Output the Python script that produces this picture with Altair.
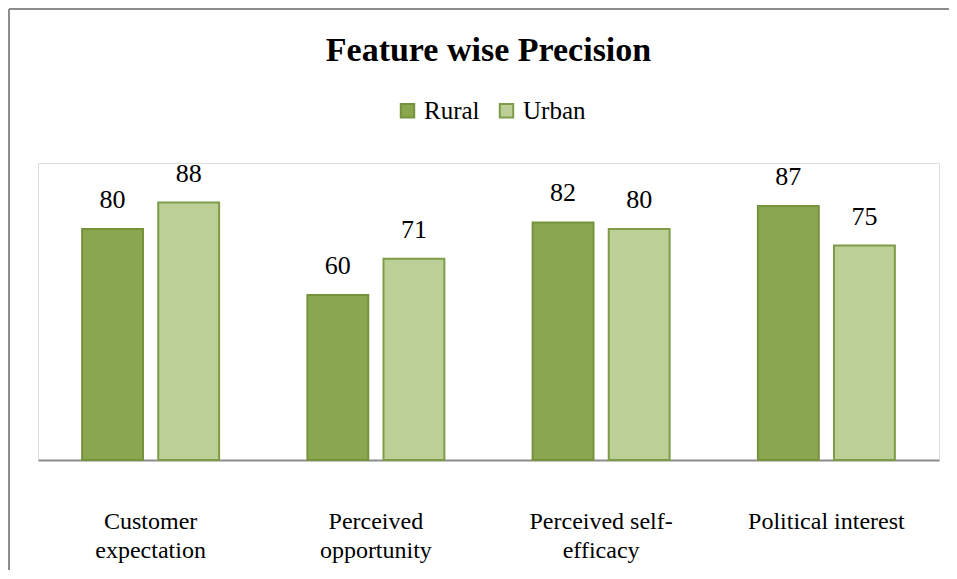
import altair as alt
import pandas as pd

categories = ["Customer expectation", "Perceived opportunity", "Perceived self-efficacy", "Political interest"]
label_lines = [["Customer", "expectation"], ["Perceived", "opportunity"], ["Perceived self-", "efficacy"], ["Political interest"]]
series = ["Rural", "Urban"]
rural = [80, 60, 82, 87]
urban = [88, 71, 80, 75]

rows = []
for c, r, u in zip(categories, rural, urban):
    rows.append({"Feature": c, "Area": "Rural", "Precision": r})
    rows.append({"Feature": c, "Area": "Urban", "Precision": u})
df = pd.DataFrame(rows)

FONT = "Liberation Serif"
W, H = 901, 297

label_map = "{" + ",".join(
    "'%s': [%s]" % (c, ",".join("'%s'" % l for l in lines)) for c, lines in zip(categories, label_lines)
) + "}"

x = alt.X("Feature:N", sort=categories, title=None,
          scale=alt.Scale(paddingInner=0, paddingOuter=0),
          axis=alt.Axis(labelAngle=0, ticks=False, domainColor="#8c8c8c", domainWidth=2,
                        labelFont=FONT, labelFontSize=24, labelColor="#000000",
                        labelPadding=49, labelLineHeight=29, labelBaseline="top",
                        labelExpr=label_map + "[datum.value]"))
xo = alt.XOffset("Area:N", sort=series, scale=alt.Scale(paddingInner=0.2, paddingOuter=0.58))
y = alt.Y("Precision:Q", scale=alt.Scale(domain=[10, 100], clamp=True, nice=False, zero=False), axis=None)

color = alt.Color("Area:N", sort=series, title=None,
                  scale=alt.Scale(domain=series, range=["#8AA64E", "#BBCF96"]),
                  legend=alt.Legend(orient="none", legendX=357, legendY=-65, direction="horizontal",
                                    labelFont=FONT, labelFontSize=25, labelColor="#000000",
                                    symbolType="square", symbolSize=180, symbolStrokeWidth=2,
                                    columnPadding=14, labelOffset=4))
stroke = alt.Stroke("Area:N", sort=series, legend=None,
                    scale=alt.Scale(domain=series, range=["#76923C", "#7E9C48"]))

base = alt.Chart(df)
bars = base.mark_bar(strokeWidth=2).encode(x=x, xOffset=xo, y=y, color=color, stroke=stroke)
labels = base.mark_text(font=FONT, fontSize=26, dy=-16, baseline="bottom", color="#000000").encode(
    x=x, xOffset=xo, y=y, text=alt.Text("Precision:Q"))

border_v = alt.Chart(df).mark_rule(color="#8c8c8c", strokeWidth=2).encode(
    x=alt.value(-29), y=alt.value(-154), y2=alt.value(H + 140))
border_h = alt.Chart(df).mark_rule(color="#8c8c8c", strokeWidth=2).encode(
    y=alt.value(-154), x=alt.value(-29), x2=alt.value(W + 40))

chart = alt.layer(bars, labels, border_v, border_h).properties(
    width=W, height=H,
    title=alt.TitleParams("Feature wise Precision", font=FONT, fontSize=34, fontWeight="bold",
                          color="#000000", anchor="middle", offset=-60),
    autosize=alt.AutoSizeParams(type="none"),
    padding={"left": 30, "top": 155, "right": 10, "bottom": 110},
).configure_view(fill="#EFF2E8", stroke="transparent", strokeWidth=0).configure(background="#ffffff")

chart.save("out.html", embed_options={"renderer": "svg", "actions": False})
